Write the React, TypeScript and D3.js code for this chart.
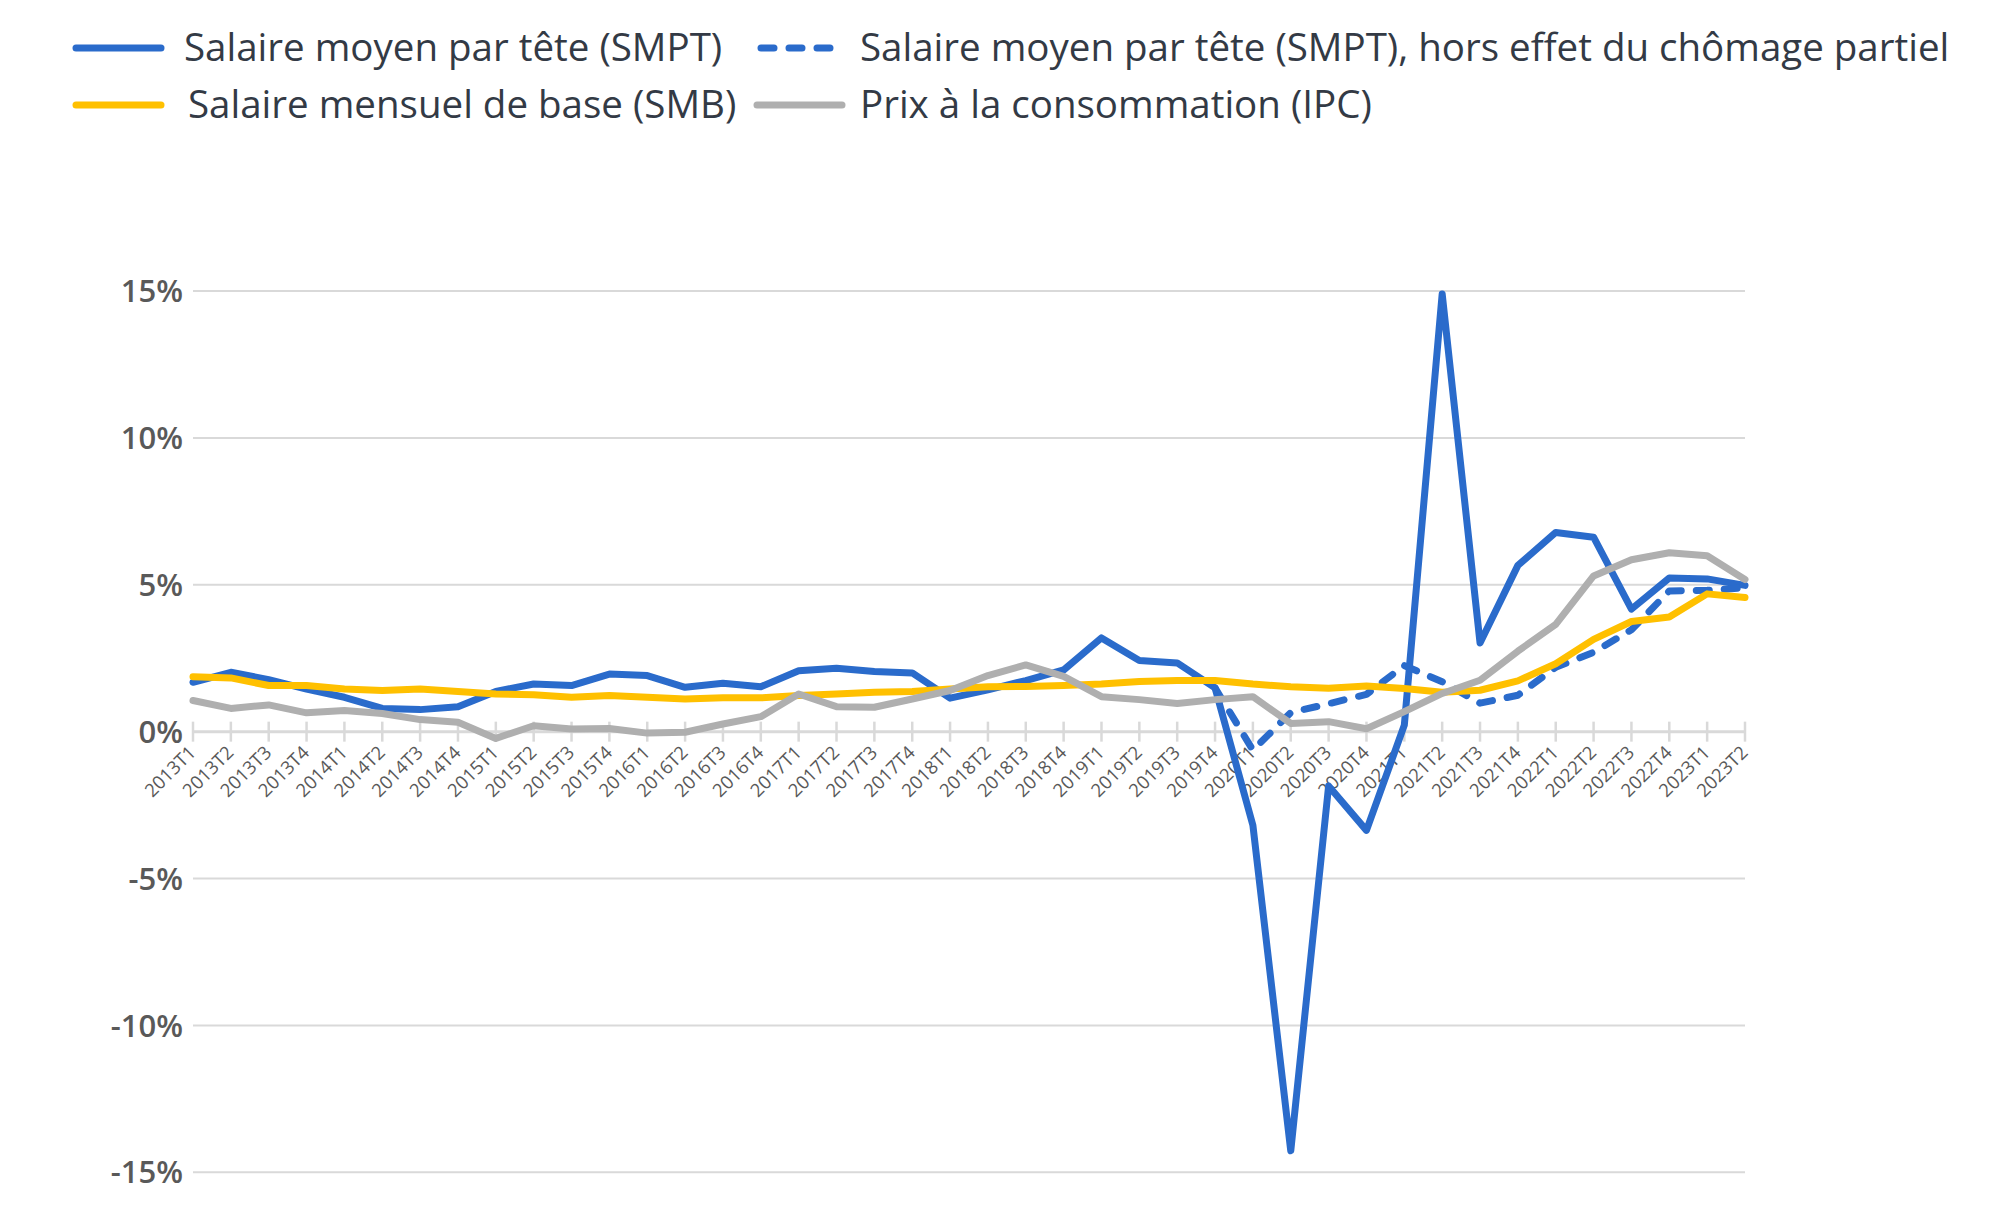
import React from 'react';
import * as d3 from 'd3';

// Quarters shown on the x axis
const quarters = [
  '2013T1', '2013T2', '2013T3', '2013T4',
  '2014T1', '2014T2', '2014T3', '2014T4',
  '2015T1', '2015T2', '2015T3', '2015T4',
  '2016T1', '2016T2', '2016T3', '2016T4',
  '2017T1', '2017T2', '2017T3', '2017T4',
  '2018T1', '2018T2', '2018T3', '2018T4',
  '2019T1', '2019T2', '2019T3', '2019T4',
  '2020T1', '2020T2', '2020T3', '2020T4',
  '2021T1', '2021T2', '2021T3', '2021T4',
  '2022T1', '2022T2', '2022T3', '2022T4',
  '2023T1', '2023T2',
];

// Salaire moyen par tête (SMPT), % sur un an
const smpt = [
  1.68, 2.02, 1.77, 1.45, 1.17, 0.79, 0.75, 0.85,
  1.37, 1.62, 1.57, 1.96, 1.91, 1.51, 1.65, 1.53,
  2.07, 2.16, 2.05, 2.0, 1.14, 1.42, 1.74, 2.1,
  3.19, 2.42, 2.34, 1.49, -3.19, -14.27, -1.85, -3.36,
  0.22, 14.9, 3.02, 5.66, 6.78, 6.62, 4.17, 5.23,
  5.2, 4.98,
];

// SMPT hors effet du chômage partiel (distinct from 2019T4 onwards)
const smptHorsCP: (number | null)[] = [
  null, null, null, null, null, null, null, null,
  null, null, null, null, null, null, null, null,
  null, null, null, null, null, null, null, null,
  null, null, null, 1.49, -0.63, 0.65, 0.95, 1.27,
  2.25, 1.7, 0.97, 1.24, 2.19, 2.7, 3.47, 4.79,
  4.81, 4.9,
];

// Salaire mensuel de base (SMB)
const smb = [
  1.87, 1.83, 1.57, 1.57, 1.45, 1.4, 1.45, 1.37,
  1.28, 1.26, 1.17, 1.23, 1.17, 1.11, 1.15, 1.15,
  1.23, 1.28, 1.34, 1.37, 1.45, 1.53, 1.54, 1.57,
  1.62, 1.71, 1.74, 1.74, 1.62, 1.53, 1.48, 1.55,
  1.47, 1.34, 1.41, 1.73, 2.31, 3.14, 3.75, 3.9,
  4.69, 4.57,
];

// Prix à la consommation (IPC)
const ipc = [
  1.06, 0.79, 0.91, 0.64, 0.72, 0.62, 0.41, 0.32,
  -0.23, 0.2, 0.09, 0.11, -0.05, -0.02, 0.26, 0.51,
  1.28, 0.85, 0.83, 1.11, 1.4, 1.91, 2.27, 1.88,
  1.19, 1.09, 0.96, 1.09, 1.19, 0.28, 0.34, 0.1,
  0.68, 1.3, 1.75, 2.74, 3.65, 5.3, 5.85, 6.09,
  5.99, 5.18,
];

const yTicks = [-15, -10, -5, 0, 5, 10, 15];

const BLUE = '#2a6bcb';
const YELLOW = '#ffc000';
const GRAY = '#afafaf';
const GRID = '#d9d9d9';
const FONT = '"Open Sans", "Noto Sans", sans-serif';

const W = 1989;
const H = 1225;

export default function App() {
  const x = d3.scalePoint<string>().domain(quarters).range([193, 1745]);
  const y = d3.scaleLinear().domain([-15, 15]).range([1172.3, 291]);

  const line = d3
    .line<number | null>()
    .defined((d) => d !== null)
    .x((_, i) => x(quarters[i]) as number)
    .y((d) => y(d as number));

  const series = [
    { name: 'smpt', values: smpt, color: BLUE, dash: undefined },
    { name: 'smptHorsCP', values: smptHorsCP, color: BLUE, dash: '13 15' },
    { name: 'smb', values: smb, color: YELLOW, dash: undefined },
    { name: 'ipc', values: ipc, color: GRAY, dash: undefined },
  ];

  const legend = [
    { label: 'Salaire moyen par tête (SMPT)', color: BLUE, dash: undefined, sx: 72, tx: 184, cy: 48 },
    { label: 'Salaire moyen par tête (SMPT), hors effet du chômage partiel', color: BLUE, dash: '13 15', sx: 757, tx: 860, cy: 48 },
    { label: 'Salaire mensuel de base (SMB)', color: YELLOW, dash: undefined, sx: 72, tx: 188, cy: 105 },
    { label: 'Prix à la consommation (IPC)', color: GRAY, dash: undefined, sx: 753, tx: 860, cy: 105 },
  ];

  const [x0, x1] = x.range();

  return (
    <svg
      width={W}
      height={H}
      style={{ position: 'absolute', left: 0, top: 0, background: '#fff' }}
      fontFamily={FONT}
    >
      {/* legend */}
      {legend.map((l) => (
        <g key={l.label}>
          <line
            x1={l.sx + 4}
            x2={l.sx + (l.dash ? 78 : 89)}
            y1={l.cy}
            y2={l.cy}
            stroke={l.color}
            strokeWidth={7}
            strokeLinecap="round"
            strokeDasharray={l.dash}
          />
          <text x={l.tx} y={l.cy} dy="0.35em" fontSize={38.5} fill="#333a45">
            {l.label}
          </text>
        </g>
      ))}

      {/* gridlines + y labels */}
      {yTicks.map((t) => (
        <g key={t}>
          <line
            x1={x0}
            x2={x1}
            y1={y(t)}
            y2={y(t)}
            stroke={GRID}
            strokeWidth={t === 0 ? 3 : 2}
          />
          <text
            x={183}
            y={y(t)}
            dy="0.36em"
            textAnchor="end"
            fontSize={31}
            fontWeight={600}
            fill="#595959"
          >
            {`${t}%`}
          </text>
        </g>
      ))}

      {/* x ticks and labels */}
      {quarters.map((q) => {
        const px = x(q) as number;
        return (
          <g key={q}>
            <line x1={px} x2={px} y1={y(0) - 10} y2={y(0) + 10} stroke={GRID} strokeWidth={2.5} />
            <text
              transform={`translate(${px + 4},${y(0) + 22}) rotate(-45)`}
              textAnchor="end"
              fontSize={18.5}
              fill="#595959"
            >
              {q}
            </text>
          </g>
        );
      })}

      {/* series */}
      {series.map((s) => (
        <path
          key={s.name}
          d={line(s.values) || ''}
          fill="none"
          stroke={s.color}
          strokeWidth={7}
          strokeLinejoin="round"
          strokeLinecap="round"
          strokeDasharray={s.dash}
        />
      ))}
    </svg>
  );
}
